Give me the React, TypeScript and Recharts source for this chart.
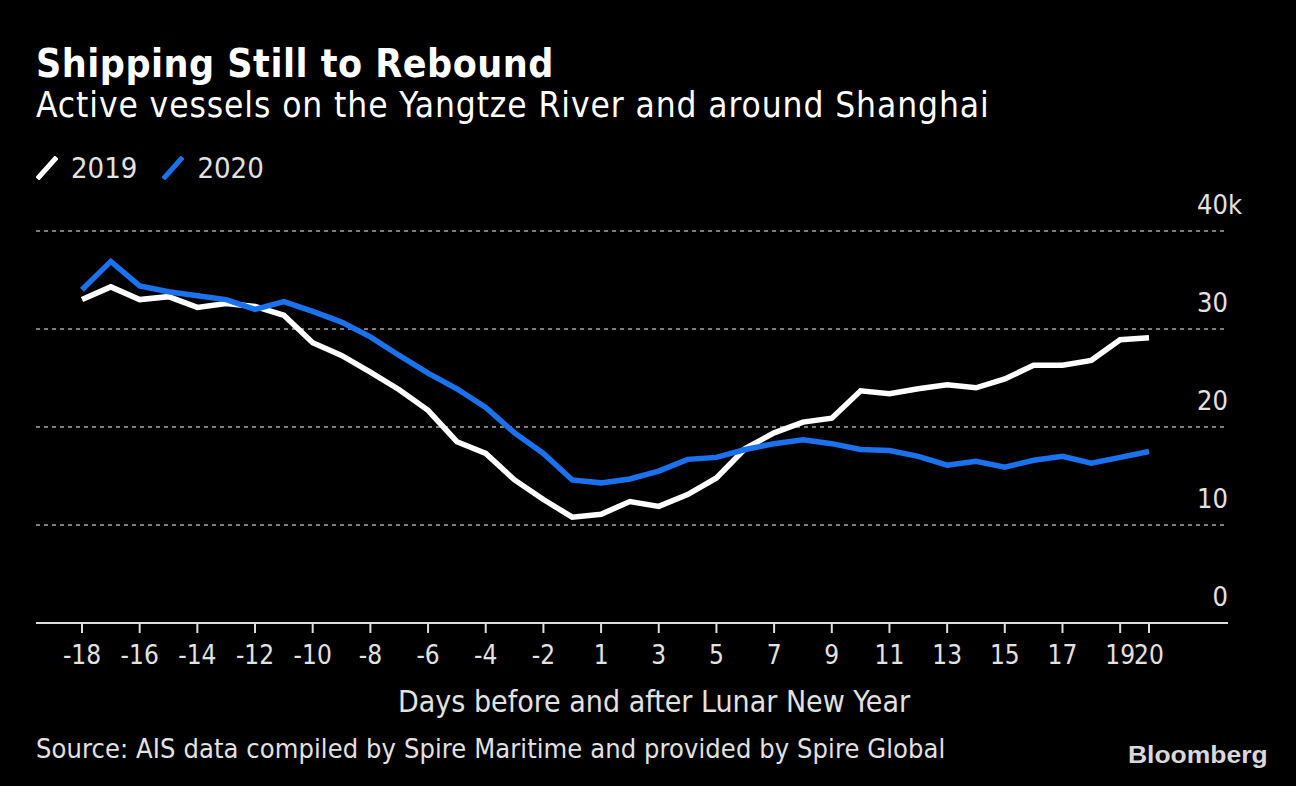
import { LineChart, Line, XAxis, YAxis, CartesianGrid, Legend } from "recharts"

const FONT = "'DejaVu Sans Condensed', 'Liberation Sans Narrow', sans-serif"

// days before / after Lunar New Year (no day 0)
const days = [
  "-18", "-17", "-16", "-15", "-14", "-13", "-12", "-11", "-10", "-9", "-8", "-7", "-6", "-5", "-4", "-3", "-2", "-1",
  "1", "2", "3", "4", "5", "6", "7", "8", "9", "10", "11", "12", "13", "14", "15", "16", "17", "18", "19", "20",
]

// active vessels, thousands
const vessels2019 = [
  33.0, 34.3, 33.0, 33.3, 32.2, 32.6, 32.3, 31.4, 28.6, 27.3, 25.6, 23.8, 21.7, 18.5, 17.3, 14.6, 12.6, 10.8,
  11.1, 12.4, 11.9, 13.1, 14.8, 17.8, 19.4, 20.5, 20.9, 23.7, 23.4, 23.9, 24.3, 24.0, 24.9, 26.3, 26.3, 26.8, 28.9, 29.1,
]
const vessels2020 = [
  34.0, 36.9, 34.4, 33.8, 33.4, 33.0, 32.0, 32.8, 31.8, 30.7, 29.2, 27.3, 25.5, 23.9, 22.0, 19.4, 17.3, 14.6,
  14.3, 14.7, 15.5, 16.7, 16.9, 17.7, 18.3, 18.7, 18.3, 17.7, 17.6, 17.0, 16.1, 16.5, 15.9, 16.6, 17.0, 16.3, 16.9, 17.5,
]

const xTickLabels = ["-18", "-16", "-14", "-12", "-10", "-8", "-6", "-4", "-2", "1", "3", "5", "7", "9", "11", "13", "15", "17", "19", "20"]
const yTicks = [0, 10, 20, 30, 40]

const WHITE = "#ffffff"
const BLUE = "#1a72ee"
const TEXT = "#e2e2e2"

const chartData = days.map((d, i) => ({ day: d, "2019": vessels2019[i], "2020": vessels2020[i] }))

function XTick(props: any) {
  const { x, y, payload } = props
  if (!xTickLabels.includes(payload.value)) return <g />
  return (
    <g>
      <line x1={x} x2={x} y1={y} y2={y + 10} stroke="#dddddd" strokeWidth={2} />
      <text x={x} y={y + 41} textAnchor="middle" fill={TEXT} fontSize={26} fontFamily={FONT}>
        {payload.value}
      </text>
    </g>
  )
}

function YTick(props: any) {
  const { x, y, payload } = props
  return (
    <g>
      <text x={x} y={y - 17} textAnchor="end" fill={TEXT} fontSize={27} fontFamily={FONT}>
        {payload.value}
      </text>
      {payload.value === 40 && (
        <text x={x} y={y - 17} textAnchor="start" fill={TEXT} fontSize={27} fontFamily={FONT}>
          k
        </text>
      )}
    </g>
  )
}

function LegendContent(props: any) {
  const { payload } = props
  return (
    <div style={{ display: "flex", alignItems: "center", fontFamily: FONT, fontSize: 29, color: TEXT }}>
      {payload.map((p: any) => (
        <div key={p.value} style={{ display: "flex", alignItems: "center", marginRight: 25 }}>
          <svg width={22} height={24} style={{ marginRight: 13 }}>
            <line x1={3} y1={21} x2={19} y2={3} stroke={p.color} strokeWidth={5} strokeLinecap="square" />
          </svg>
          <span>{p.value}</span>
        </div>
      ))}
    </div>
  )
}

export default function App() {
  return (
    <div
      style={{
        position: "absolute",
        left: 0,
        top: 0,
        width: 1296,
        height: 786,
        background: "#000000",
        overflow: "hidden",
        fontFamily: FONT,
      }}
    >
      <div style={{ position: "absolute", left: 36, top: 44, fontSize: 39, fontWeight: "bold", color: "#ffffff", lineHeight: 1, letterSpacing: 0.5, whiteSpace: "nowrap" }}>
        Shipping Still to Rebound
      </div>
      <div style={{ position: "absolute", left: 36, top: 88, fontSize: 35, color: "#ffffff", lineHeight: 1, letterSpacing: 0.9, whiteSpace: "nowrap" }}>
        Active vessels on the Yangtze River and around Shanghai
      </div>

      <LineChart width={1296} height={786} data={chartData} margin={{ top: 231, right: 8, left: 36, bottom: 103 }}>
        <CartesianGrid vertical={false} stroke="#7d7d7d" strokeDasharray="4 4" strokeWidth={2} />
        <XAxis
          dataKey="day"
          interval={0}
          height={60}
          padding={{ left: 46, right: 79 }}
          tickSize={0}
          tickMargin={0}
          tickLine={false}
          axisLine={{ stroke: "#dddddd", strokeWidth: 2 }}
          tick={<XTick />}
        />
        <YAxis
          orientation="right"
          width={60}
          domain={[0, 40]}
          ticks={yTicks}
          tickSize={0}
          tickMargin={0}
          tickLine={false}
          axisLine={false}
          tick={<YTick />}
        />
        <Legend
          layout="horizontal"
          verticalAlign="middle"
          align="center"
          wrapperStyle={{ top: 151, left: 36, width: "auto" }}
          content={<LegendContent />}
        />
        <Line type="linear" dataKey="2019" stroke={WHITE} strokeWidth={5.5} dot={false} isAnimationActive={false} />
        <Line type="linear" dataKey="2020" stroke={BLUE} strokeWidth={5.5} dot={false} isAnimationActive={false} />
      </LineChart>

      <div style={{ position: "absolute", left: 398, top: 687, fontSize: 30, color: TEXT, lineHeight: 1, whiteSpace: "nowrap" }}>
        Days before and after Lunar New Year
      </div>
      <div style={{ position: "absolute", left: 36, top: 735, fontSize: 27, color: TEXT, lineHeight: 1, letterSpacing: 0.1, whiteSpace: "nowrap" }}>
        Source: AIS data compiled by Spire Maritime and provided by Spire Global
      </div>
      <div
        style={{
          position: "absolute",
          left: 1128,
          top: 744,
          fontSize: 23,
          fontWeight: 900,
          color: "#d9d9d9",
          lineHeight: 1,
          fontFamily: "'Liberation Sans', Arial, sans-serif",
          transform: "scaleX(1.15)",
          transformOrigin: "left center",
          whiteSpace: "nowrap",
        }}
      >
        Bloomberg
      </div>
    </div>
  )
}
